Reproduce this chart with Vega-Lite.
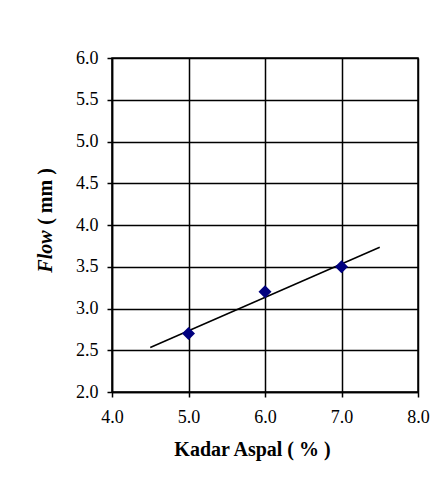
{
  "$schema": "https://vega.github.io/schema/vega-lite/v6.json",
  "width": 306,
  "height": 334,
  "autosize": {"type": "none"},
  "padding": {"left": 112, "top": 58, "right": 28, "bottom": 109},
  "background": "white",
  "data": {"values": [
    {"kadar": 5.0, "flow": 2.7},
    {"kadar": 6.0, "flow": 3.2},
    {"kadar": 7.0, "flow": 3.5}
  ]},
  "encoding": {
    "x": {"field": "kadar", "type": "quantitative",
      "scale": {"domain": [4, 8], "nice": false, "zero": false},
      "axis": {"title": "Kadar Aspal ( % )", "values": [4, 5, 6, 7, 8], "format": ".1f", "titlePadding": 13, "labelPadding": 11, "titleX": 140}}
  },
  "layer": [
    {
      "transform": [{"regression": "flow", "on": "kadar", "extent": [4.5, 7.5]}],
      "mark": {"type": "line", "color": "black", "strokeWidth": 1.5},
      "encoding": {
        "y": {"field": "flow", "type": "quantitative",
          "scale": {"domain": [2, 6], "nice": false, "zero": false},
          "axis": {"title": "( mm )", "orient": "left", "values": [2, 2.5, 3, 3.5, 4, 4.5, 5, 5.5, 6], "format": ".1f", "titleX": -57, "titleY": 138, "titleBaseline": "bottom", "titleAlign": "center"}}
      }
    },
    {
      "mark": {"type": "point", "shape": "diamond", "filled": true, "color": "#00007f", "size": 170, "opacity": 1},
      "encoding": {
        "y": {"field": "flow", "type": "quantitative",
          "axis": {"title": "Flow", "orient": "left", "titleFontStyle": "italic", "labels": false, "ticks": false, "domain": false, "grid": false, "titleX": -57, "titleY": 193, "titleBaseline": "bottom", "titleAlign": "center"}}
      }
    }
  ],
  "resolve": {"axis": {"y": "independent"}},
  "config": {
    "view": {"stroke": "black", "strokeWidth": 1.5},
    "axis": {
      "labelFont": "Liberation Serif",
      "labelFontSize": 18,
      "labelColor": "black",
      "titleFont": "Liberation Serif",
      "titleFontSize": 20,
      "titleFontWeight": "bold",
      "titleColor": "black",
      "grid": true,
      "gridColor": "black",
      "gridOpacity": 1,
      "gridWidth": 1.5,
      "domainColor": "black",
      "domainWidth": 1.5,
      "tickColor": "black",
      "tickWidth": 1.5,
      "tickSize": 5,
      "labelPadding": 9,
      "labelFlush": false,
      "labelOverlap": false
    }
  }
}
